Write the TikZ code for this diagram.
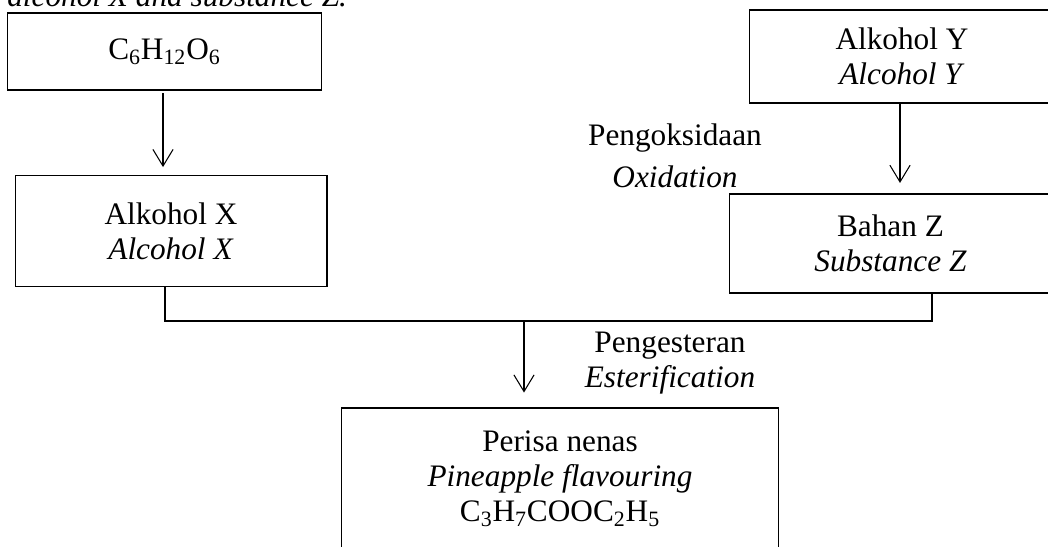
\documentclass[tikz,border=0pt]{standalone}
\usepackage{fontspec}
\setmainfont{LiberationSerif}[Extension=.ttf, UprightFont=*-Regular, ItalicFont=*-Italic, BoldFont=*-Bold, BoldItalicFont=*-BoldItalic]
\usetikzlibrary{arrows.meta}

\tikzset{
	box/.style={draw, rectangle, align=center, line width=0.6pt, inner sep=0pt},
	flow/.style={-{Straight Barb[length=9.5pt,width=11.5pt]}, line width=0.6pt},
	link/.style={line width=0.6pt}
}

\begin{document}
\begin{tikzpicture}[x=0.02cm, y=-0.02cm, font=\fontsize{17.8pt}{20pt}\selectfont]
	\useasboundingbox (0,0) rectangle (1048,547);
	\clip (0,0) rectangle (1048,547);
	\node (intro) [anchor=base west, inner sep=0pt] at (7,7) {\textit{alcohol X and substance Z.}};
	\node (glu) [box, minimum width=6.3cm, minimum height=1.54cm] at (164.5,51.5) {C\textsubscript{6}H\textsubscript{12}O\textsubscript{6}};
	\node (alkx) [box, minimum width=6.24cm, minimum height=2.22cm] at (171,231) {Alkohol X\\ \textit{Alcohol X}};
	\node (alky) [box, minimum width=6.12cm, minimum height=1.86cm] at (902,56.5) {Alkohol Y\\ \textit{Alcohol Y}};
	\node (bahz) [box, minimum width=6.46cm, minimum height=1.98cm] at (890.5,243.5) {Bahan Z\\ \textit{Substance Z}};
	\node (perisa) [box, minimum width=8.76cm, minimum height=3.44cm] at (560,494) {Perisa nenas\\ \textit{Pineapple flavouring}\\ C\textsubscript{3}H\textsubscript{7}COOC\textsubscript{2}H\textsubscript{5}\\ \mbox{}};
	\node (oxid) [align=center] at (675,156) {Pengoksidaan\\[4pt] \textit{Oxidation}};
	\node (ester) [align=center] at (670,363) {Pengesteran\\ \textit{Esterification}};
	\coordinate (join) at (524,321);
	\draw[flow, shorten <=1.5pt, shorten >=4.5pt] ([xshift=-0.03cm]glu.south) -- ([xshift=-0.03cm]glu.south |- alkx.north);
	\draw[flow, shorten >=6pt] ([xshift=-0.04cm]alky.south) -- ([xshift=-0.04cm]alky.south |- bahz.north);
	\draw[link] ([xshift=-0.12cm]alkx.south) |- (join) -| ([xshift=0.83cm]bahz.south);
	\draw[flow, shorten >=8.5pt] (join) -- (join |- perisa.north);
\end{tikzpicture}
\end{document}
